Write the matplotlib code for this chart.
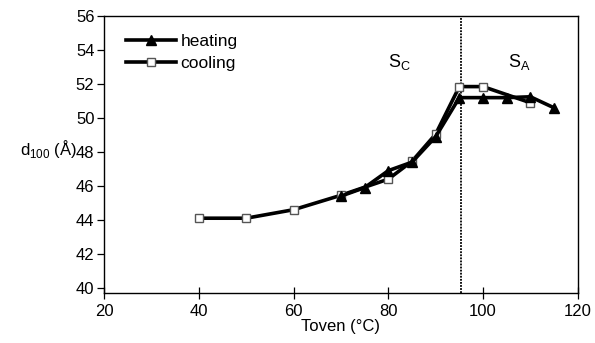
import matplotlib
matplotlib.use("Agg")
import matplotlib.pyplot as plt
from matplotlib.lines import Line2D

plt.rcParams["font.family"] = ["Liberation Sans", "DejaVu Sans"]

# heating run (filled triangles)
HEAT_T = [70, 75, 80, 85, 90, 95, 100, 105, 110, 115]
HEAT_D = [45.4, 45.9, 46.9, 47.4, 48.9, 51.2, 51.2, 51.2, 51.25, 50.6]

# cooling run (open squares)
COOL_T = [40, 50, 60, 70, 80, 85, 90, 95, 100, 110]
COOL_D = [44.1, 44.1, 44.6, 45.45, 46.4, 47.45, 49.05, 51.85, 51.85, 50.9]

T_TRANSITION = 95.3
X_TICKS = [20, 40, 60, 80, 100, 120]
Y_TICKS = [40, 42, 44, 46, 48, 50, 52, 54, 56]

FS = 12

fig = plt.figure(figsize=(5.95, 3.43), dpi=100)
ax = fig.add_axes([0.175, 0.146, 0.796, 0.807])

ax.plot(COOL_T, COOL_D, "-", color="black", linewidth=2.6,
        marker="s", markersize=6, markerfacecolor="white",
        markeredgecolor="#555555", markeredgewidth=1.0, zorder=3)
ax.plot(HEAT_T, HEAT_D, "-", color="black", linewidth=2.6,
        marker="^", markersize=6.5, markerfacecolor="black",
        markeredgecolor="black", zorder=4)

ax.axvline(T_TRANSITION, color="black", linewidth=1.3, linestyle=(0, (1, 0.7)), zorder=2)

ax.text(82.3, 53.3, r"S$_\mathregular{C}$", fontsize=13, ha="center", va="center")
ax.text(107.6, 53.3, r"S$_\mathregular{A}$", fontsize=13, ha="center", va="center")

ax.set_xlim(20, 120)
ax.set_ylim(39.7, 56)
ax.set_xticks(X_TICKS)
ax.set_yticks(Y_TICKS)
ax.tick_params(axis="y", direction="out", length=5, width=0.9, labelsize=FS, pad=2)
ax.tick_params(axis="x", direction="inout", length=8, width=0.9, labelsize=FS, pad=4)
for s in ax.spines.values():
    s.set_linewidth(1.0)

ax.set_xlabel("Toven (°C)", fontsize=FS, labelpad=0)
ax.set_ylabel("d$_\\mathregular{100}$ (Å)", fontsize=FS, rotation=0,
              va="center", ha="right")
ax.yaxis.set_label_coords(-0.058, 0.52)

handles = [
    Line2D([], [], color="black", linewidth=2.6, marker="^", markersize=6.5,
           markerfacecolor="black"),
    Line2D([], [], color="black", linewidth=2.6, marker="s", markersize=6,
           markerfacecolor="white", markeredgecolor="#555555", markeredgewidth=1.0),
]
ax.legend(handles, ["heating", "cooling"], loc="upper left", frameon=False,
          fontsize=FS + 0.5, handlelength=2.9, handletextpad=0.25, labelspacing=0.4,
          borderaxespad=0.3, bbox_to_anchor=(0.02, 0.98))

fig.savefig("out.png", dpi=100)
